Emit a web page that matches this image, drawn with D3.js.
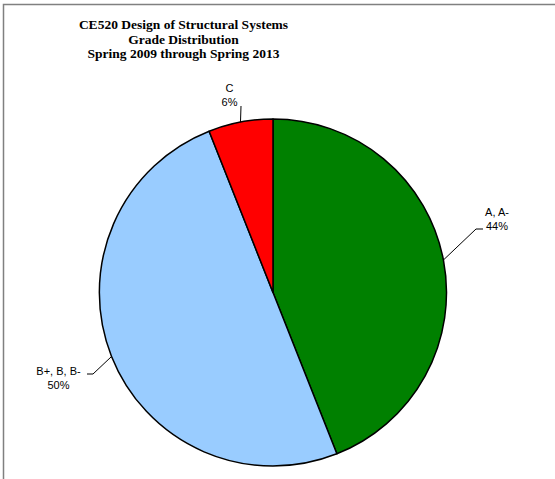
<!DOCTYPE html>
<html><head><meta charset="utf-8">
<script src="https://cdn.jsdelivr.net/npm/d3@7"></script>
<style>html,body{margin:0;padding:0;background:#fff;}svg{display:block;}</style>
</head><body>
<svg id="chart" width="555" height="479"></svg>
<script>
const titleLines = ["CE520 Design of Structural Systems", "Grade Distribution", "Spring 2009 through Spring 2013"];
const categories = ["A, A-", "B+, B, B-", "C"];
const values = [44, 50, 6];
const colors = ["#008000", "#99CCFF", "#FF0000"];

const svg = d3.select("#chart");
// frame (only top and left edges visible)
svg.append("rect").attr("x", 3.5).attr("y", 4.5).attr("width", 700).attr("height", 700)
  .attr("fill", "none").attr("stroke", "#808080").attr("stroke-width", 1.5);

const title = svg.append("text").attr("text-anchor", "middle")
  .attr("font-family", "'Liberation Serif','Times New Roman',serif")
  .attr("font-weight", "bold").attr("font-size", "13.5px").attr("fill", "#000");
titleLines.forEach((t, i) => title.append("tspan").attr("x", 183.5).attr("y", 29 + i * 14.6).text(t));

const cx = 273, cy = 292.5, R = 173.5;
const total = d3.sum(values);
const pie = d3.pie().sort(null).value(d => d)(values);
const arc = d3.arc().innerRadius(0).outerRadius(R);
const g = svg.append("g").attr("transform", `translate(${cx},${cy})`);
g.selectAll("path").data(pie).join("path")
  .attr("d", arc).attr("fill", (d, i) => colors[i])
  .attr("stroke", "#000").attr("stroke-width", 1.5).attr("stroke-linejoin", "round");

// label layout (positions relative to the page)
const labelLayout = [
  {elbow: [476, 229], end: [483, 229], tx: 497, ty: 215.5},
  {elbow: [93, 374], end: [87, 374], tx: 58.5, ty: 375},
  {elbow: null, end: [241, 106], tx: 229.5, ty: 92}
];
pie.forEach((d, i) => {
  const a = (d.startAngle + d.endAngle) / 2;
  const px = cx + R * Math.sin(a), py = cy - R * Math.cos(a);
  const L = labelLayout[i];
  const pts = [[px, py]];
  if (L.elbow) pts.push(L.elbow);
  pts.push(L.end);
  svg.append("path").attr("d", d3.line()(pts)).attr("fill", "none")
    .attr("stroke", "#000").attr("stroke-width", 1);
  const t = svg.append("text").attr("text-anchor", "middle")
    .attr("font-family", "'Liberation Sans',Arial,sans-serif").attr("font-size", "11px").attr("fill", "#000");
  t.append("tspan").attr("x", L.tx).attr("y", L.ty).text(categories[i]);
  t.append("tspan").attr("x", L.tx).attr("y", L.ty + 14.3).text(Math.round(d.value / total * 100) + "%");
});
</script>
</body></html>
